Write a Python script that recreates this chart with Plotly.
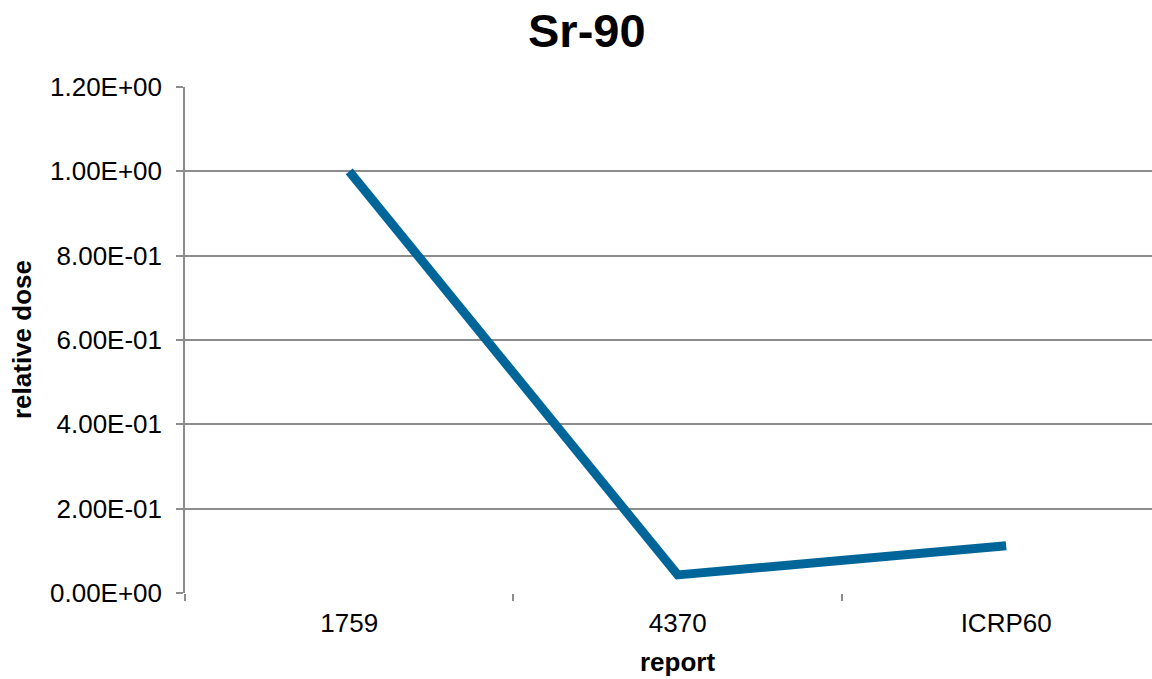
import plotly.graph_objects as go

# Relative dose of Sr-90 per report
reports = ["1759", "4370", "ICRP60"]
relative_dose = [1.0, 0.043, 0.112]
y_ticks = [0.0, 0.2, 0.4, 0.6, 0.8, 1.0, 1.2]
y_tick_text = [f"{v:.2E}" for v in y_ticks]

FONT = "Liberation Sans, Arial, sans-serif"
GRID = "#8c8c8c"

positions = list(range(len(reports)))

fig = go.Figure(
    go.Scatter(
        x=positions,
        y=relative_dose,
        mode="lines",
        line=dict(color="#006699", width=9),
        hoverinfo="skip",
    )
)

fig.update_layout(
    width=1152,
    height=679,
    margin=dict(l=185, r=0, t=87, b=86),
    paper_bgcolor="white",
    plot_bgcolor="white",
    showlegend=False,
    font=dict(family=FONT, color="black", size=26),
    xaxis=dict(
        range=[-0.5, 2.444],
        tickvals=positions,
        ticktext=reports,
        ticks="",
        ticklabelstandoff=12,
        showgrid=False,
        showline=False,
        zeroline=False,
        tickfont=dict(size=26, family=FONT),
        minor=dict(
            tickvals=[-0.5, 0.5, 1.5],
            ticks="outside",
            ticklen=7,
            tickcolor=GRID,
            tickwidth=1.5,
            showgrid=False,
        ),
    ),
    yaxis=dict(
        range=[0, 1.2],
        tickvals=y_ticks,
        ticktext=y_tick_text,
        ticks="outside",
        ticklen=7,
        tickcolor=GRID,
        tickwidth=1.5,
        ticklabelstandoff=9,
        showgrid=True,
        gridcolor=GRID,
        gridwidth=1.5,
        showline=True,
        linecolor=GRID,
        linewidth=1.5,
        zeroline=False,
        tickfont=dict(size=26, family=FONT),
    ),
    annotations=[
        dict(
            text="<b>Sr-90</b>",
            xref="paper", yref="paper",
            x=(587 - 185) / 967, y=1.0,
            xanchor="center", yanchor="middle",
            yshift=57,
            showarrow=False,
            font=dict(size=47, family=FONT, color="black"),
        ),
        dict(
            text="<b>report</b>",
            xref="x", yref="paper",
            x=1, y=0,
            xanchor="center", yanchor="middle",
            yshift=-69,
            showarrow=False,
            font=dict(size=26, family=FONT, color="black"),
        ),
        dict(
            text="<b>relative dose</b>",
            xref="paper", yref="paper",
            x=0, y=0.5,
            xanchor="center", yanchor="middle",
            xshift=-163,
            textangle=-90,
            showarrow=False,
            font=dict(size=26, family=FONT, color="black"),
        ),
    ],
)

fig.write_html("out.html")
